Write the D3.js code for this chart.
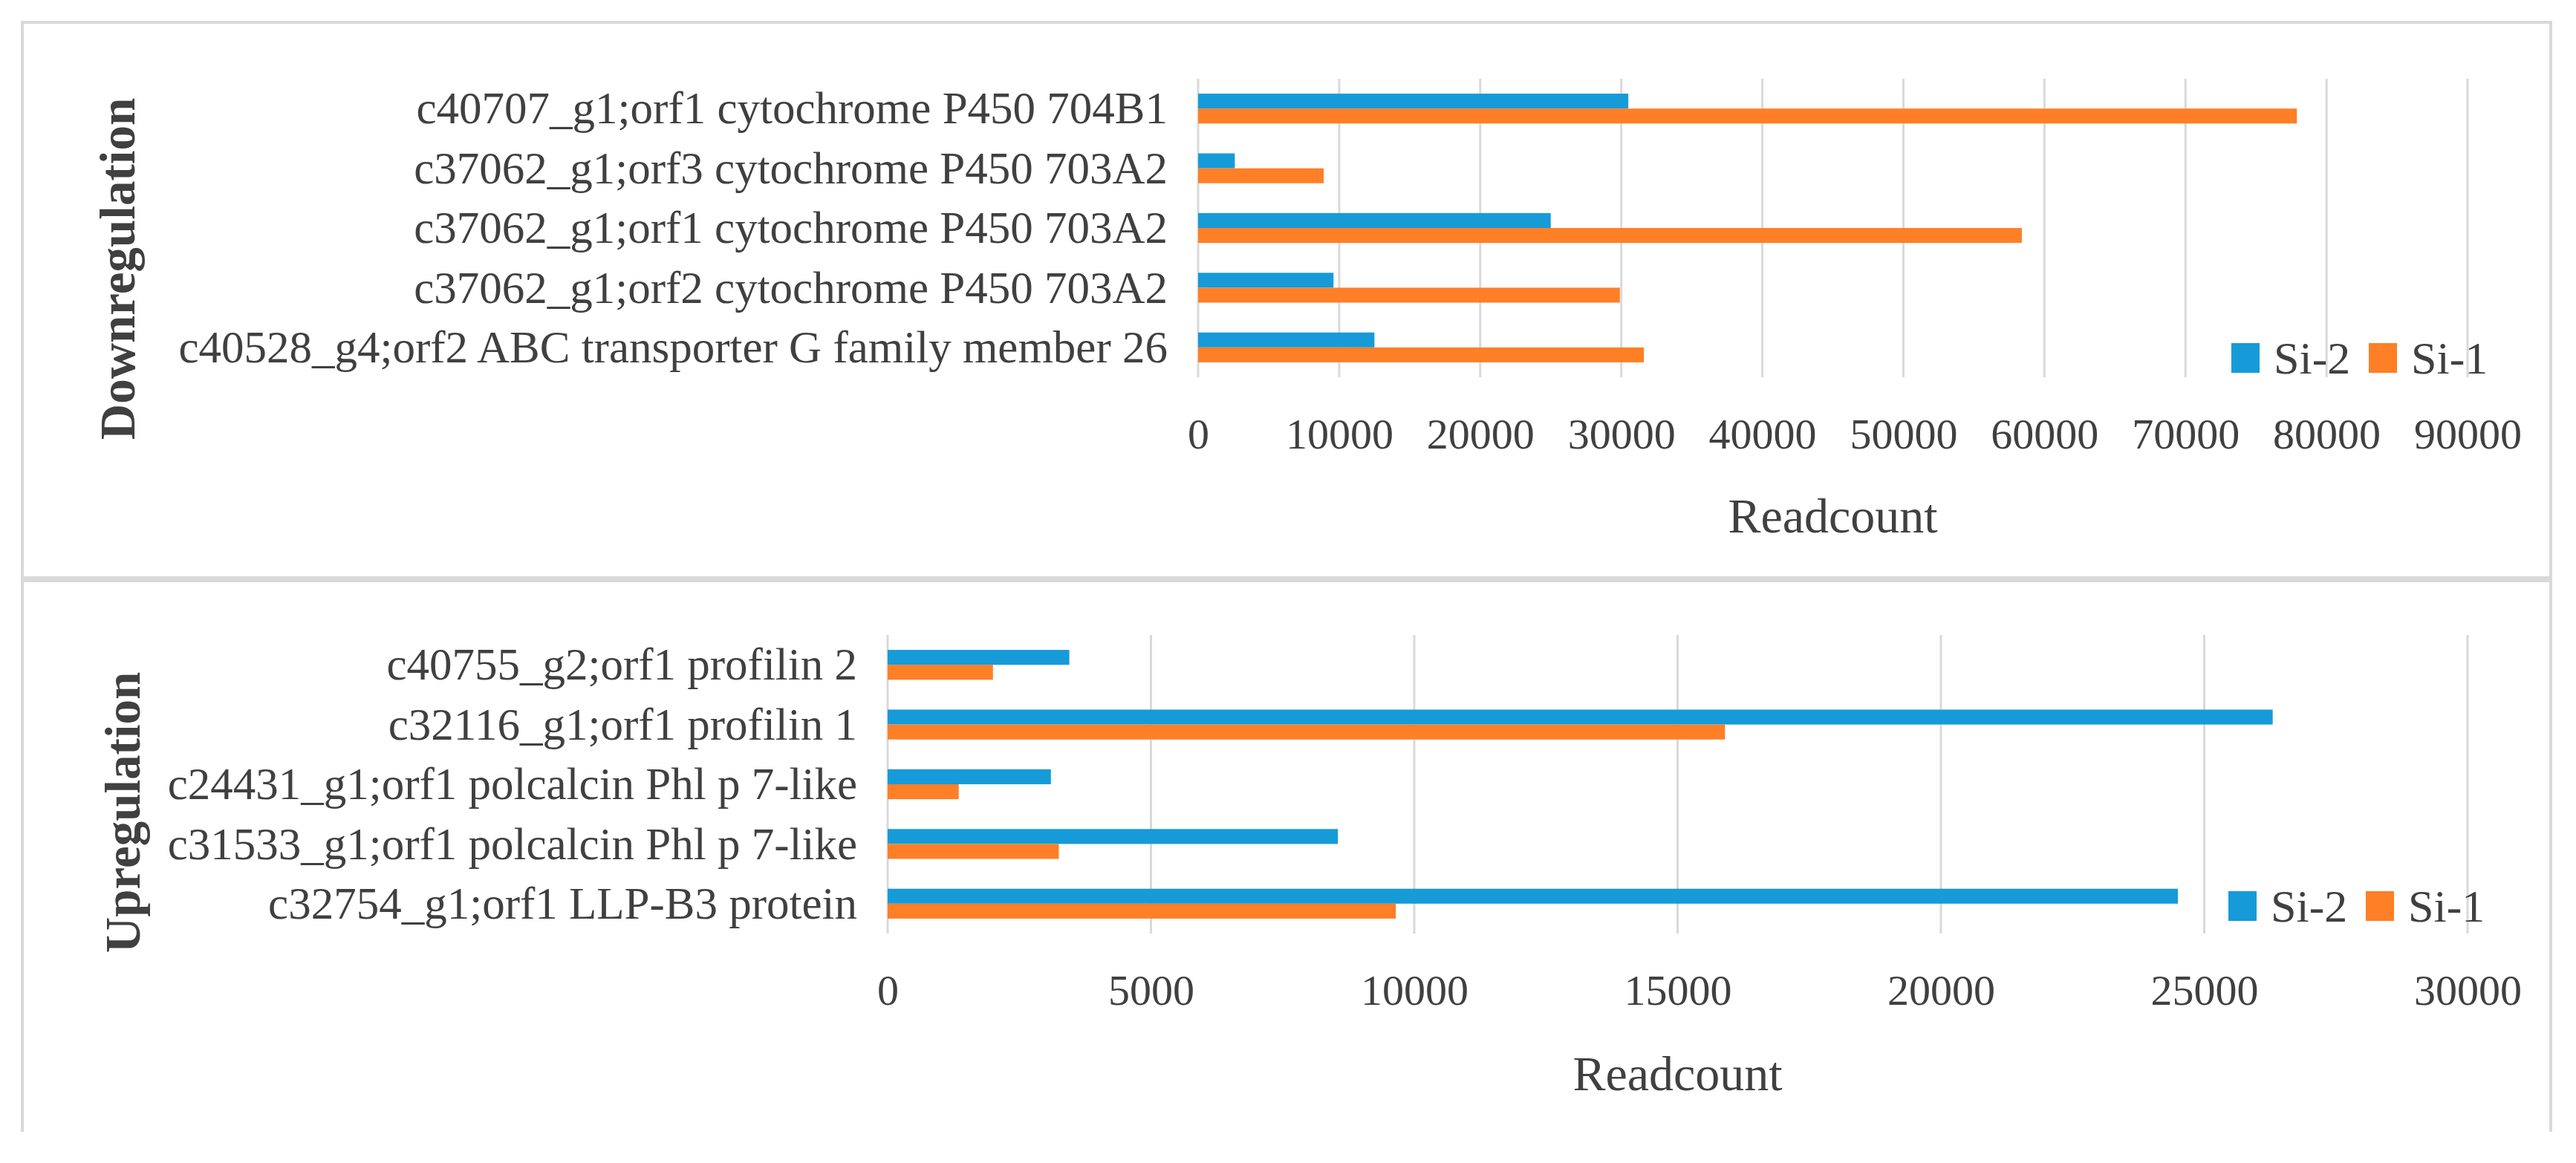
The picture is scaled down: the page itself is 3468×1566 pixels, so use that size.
<!DOCTYPE html>
<html>
<head>
<meta charset="utf-8">
<script src="https://cdn.jsdelivr.net/npm/d3@7"></script>
<style>
  body { margin: 0; background: #fff; }
  text { font-family: "Liberation Serif", "DejaVu Serif", serif; fill: #404040; }
</style>
</head>
<body>
<svg id="chart" width="3468" height="1566"></svg>
<script>
var seriesNames = ["Si-2", "Si-1"];
var seriesColors = ["#169bd8", "#fe7f26"];

var downCategories = [
    "c40707_g1;orf1 cytochrome P450 704B1",
    "c37062_g1;orf3 cytochrome P450 703A2",
    "c37062_g1;orf1 cytochrome P450 703A2",
    "c37062_g1;orf2 cytochrome P450 703A2",
    "c40528_g4;orf2 ABC transporter G family member 26"
];
var downSi2 = [30500, 2600, 25000, 9600, 12500];
var downSi1 = [77900, 8900, 58400, 29900, 31600];
var downTicks = [0, 10000, 20000, 30000, 40000, 50000, 60000, 70000, 80000, 90000];

var upCategories = [
    "c40755_g2;orf1 profilin 2",
    "c32116_g1;orf1 profilin 1",
    "c24431_g1;orf1 polcalcin Phl p 7-like",
    "c31533_g1;orf1 polcalcin Phl p 7-like",
    "c32754_g1;orf1 LLP-B3 protein"
];
var upSi2 = [3450, 26300, 3100, 8550, 24500];
var upSi1 = [2000, 15900, 1350, 3250, 9650];
var upTicks = [0, 5000, 10000, 15000, 20000, 25000, 30000];

(function () {
    var svg = d3.select("#chart");
    var border = "#d9d9d9";

    // panel frames
    svg.append("rect")
        .attr("x", 30).attr("y", 30)
        .attr("width", 3404).attr("height", 748)
        .attr("fill", "none").attr("stroke", border).attr("stroke-width", 4);
    svg.append("path")
        .attr("d", "M30,1524V782H3434V1524")
        .attr("fill", "none").attr("stroke", border).attr("stroke-width", 4);

    drawPanel({
        cats: downCategories, si2: downSi2, si1: downSi1, ticks: downTicks,
        left: 1613, right: 3322, top: 106, bottom: 508,
        title: "Downregulation", titleX: 158, titleY: 362,
        xTitleY: 694, legendX: 3004, legendY: 482
    });
    drawPanel({
        cats: upCategories, si2: upSi2, si1: upSi1, ticks: upTicks,
        left: 1195, right: 3322, top: 855, bottom: 1257,
        title: "Upregulation", titleX: 165, titleY: 1094,
        xTitleY: 1445, legendX: 3000, legendY: 1220
    });

    function drawPanel(p) {
        var height = p.bottom - p.top;
        var g = svg.append("g")
            .attr("transform", "translate(" + p.left + "," + p.top + ")");

        var x = d3.scaleLinear()
            .domain([0, p.ticks[p.ticks.length - 1]])
            .range([0, p.right - p.left]);
        var y = d3.scaleBand()
            .domain(p.cats)
            .range([0, height])
            .paddingInner(0.5)
            .paddingOuter(0.25);
        var sub = d3.scaleBand()
            .domain(seriesNames)
            .range([0, y.bandwidth()]);

        // grid
        g.selectAll(".grid")
            .data(p.ticks)
            .enter().append("line")
            .attr("x1", function (d) { return x(d); })
            .attr("x2", function (d) { return x(d); })
            .attr("y1", 0)
            .attr("y2", height)
            .attr("stroke", border)
            .attr("stroke-width", 3);

        // tick labels
        var xAxis = g.append("g")
            .attr("transform", "translate(0," + height + ")")
            .call(d3.axisBottom(x).tickValues(p.ticks).tickSize(0).tickPadding(55)
                .tickFormat(function (d) { return d; }));
        xAxis.select(".domain").remove();
        xAxis.selectAll("text").attr("font-size", 58).style("font-family", null);

        // category labels
        var yAxis = g.append("g")
            .call(d3.axisLeft(y).tickSize(0).tickPadding(41));
        yAxis.select(".domain").remove();
        yAxis.selectAll("text").attr("font-size", 61).style("font-family", null)
            .attr("dy", "0.33em");

        var rows = p.cats.map(function (c, i) {
            return { cat: c, vals: [p.si2[i], p.si1[i]] };
        });
        var grp = g.selectAll(".row")
            .data(rows)
            .enter().append("g")
            .attr("transform", function (d) { return "translate(0," + y(d.cat) + ")"; });
        grp.selectAll("rect")
            .data(function (d) {
                return d.vals.map(function (v, k) { return { name: seriesNames[k], v: v, k: k }; });
            })
            .enter().append("rect")
            .attr("x", 0)
            .attr("y", function (d) { return sub(d.name); })
            .attr("width", function (d) { return x(d.v); })
            .attr("height", sub.bandwidth())
            .attr("fill", function (d) { return seriesColors[d.k]; });

        // x title
        svg.append("text")
            .attr("x", (p.left + p.right) / 2)
            .attr("y", p.xTitleY)
            .attr("text-anchor", "middle")
            .attr("dominant-baseline", "central")
            .attr("font-size", 66)
            .text("Readcount");

        // side title
        svg.append("text")
            .attr("transform", "translate(" + p.titleX + "," + p.titleY + ") rotate(-90)")
            .attr("text-anchor", "middle")
            .attr("dominant-baseline", "central")
            .attr("font-size", 67)
            .attr("font-weight", "bold")
            .text(p.title);

        // legend
        var offsets = [0, 185];
        seriesNames.forEach(function (name, k) {
            var lx = p.legendX + offsets[k];
            svg.append("rect")
                .attr("x", lx).attr("y", p.legendY - 20)
                .attr("width", 38).attr("height", 40)
                .attr("fill", seriesColors[k]);
            svg.append("text")
                .attr("x", lx + 57).attr("y", p.legendY)
                .attr("dominant-baseline", "central")
                .attr("font-size", 62)
                .text(name);
        });
    }
})();
</script>
</body>
</html>
